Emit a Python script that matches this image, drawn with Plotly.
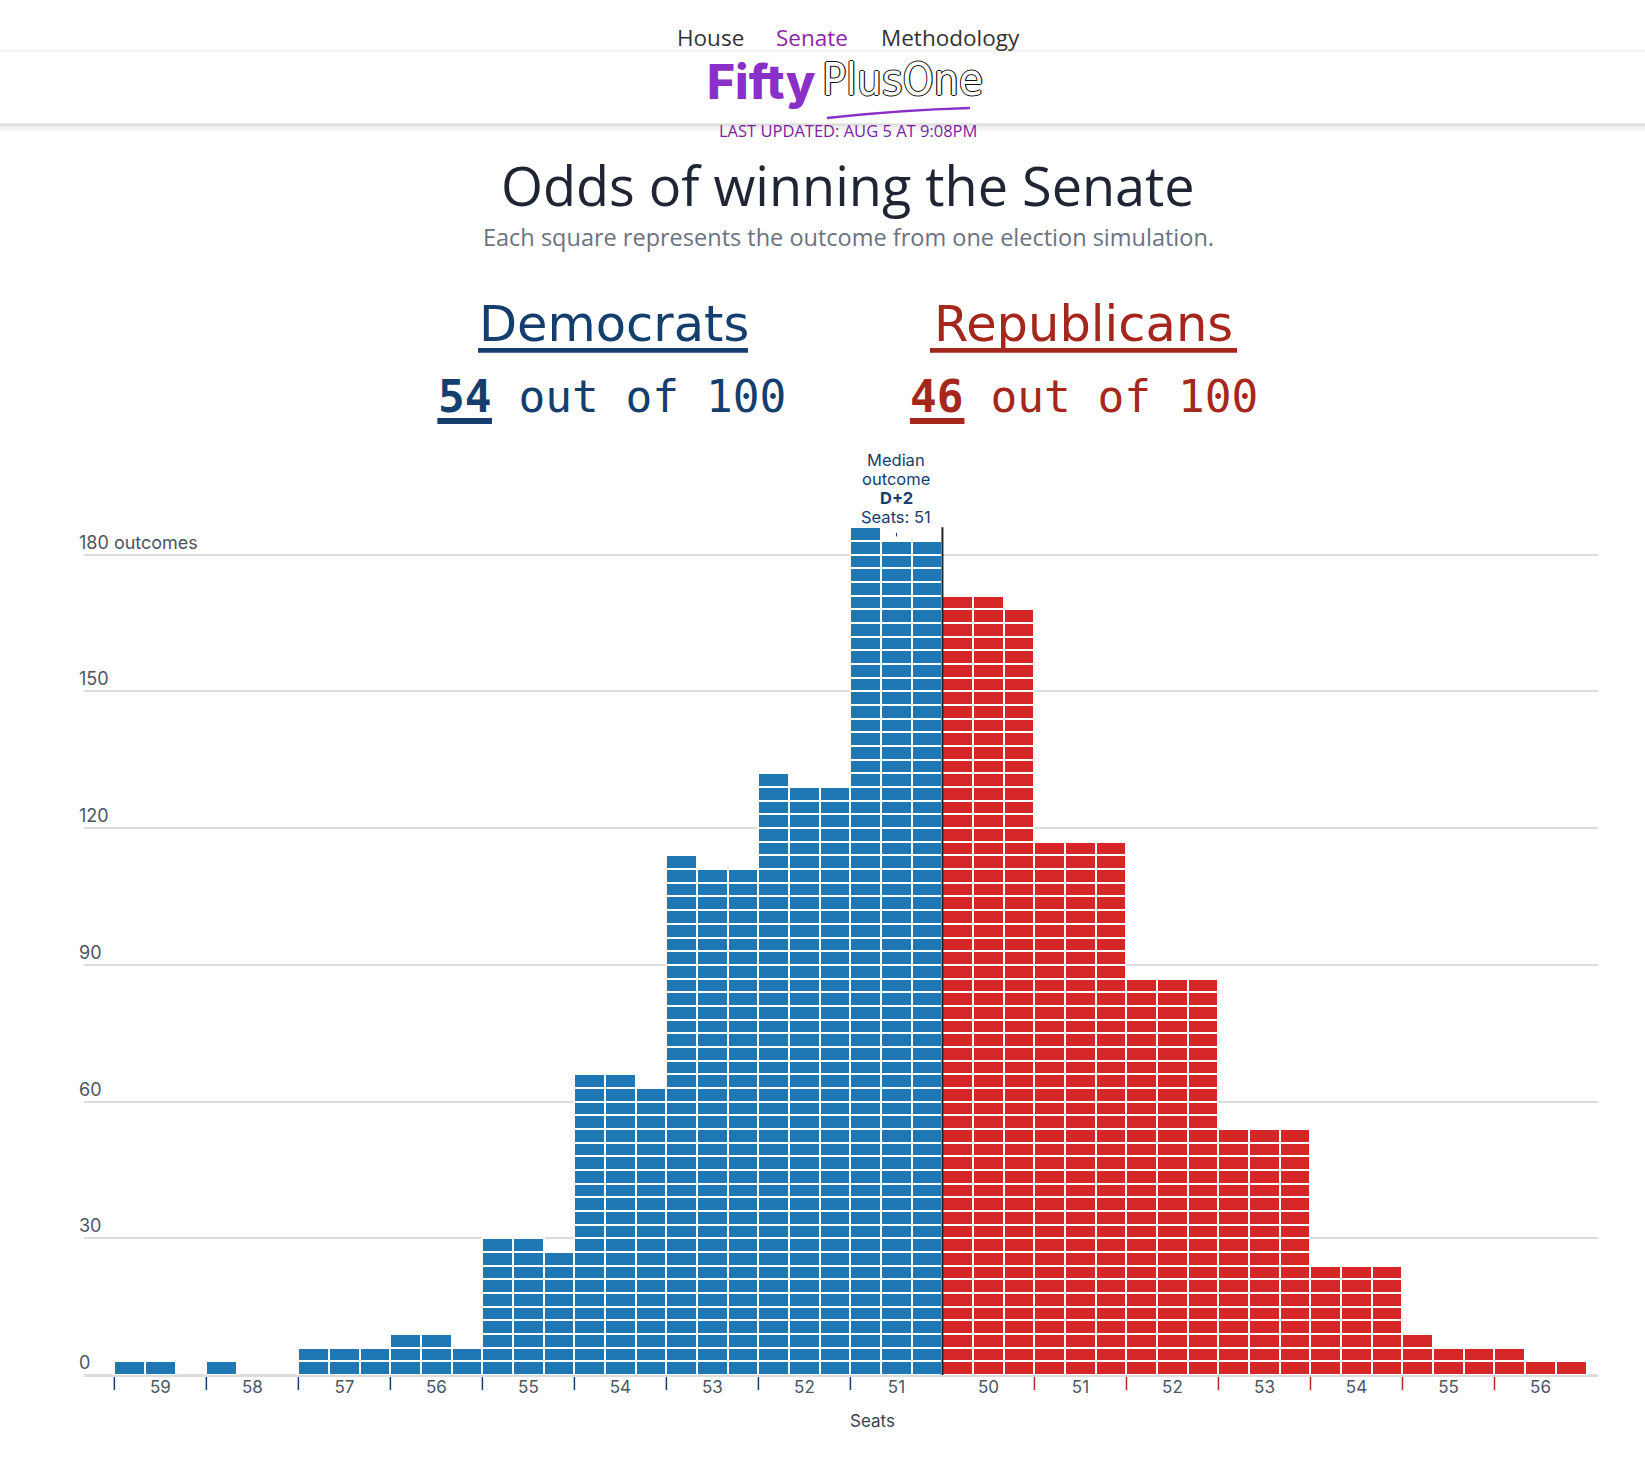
import plotly.graph_objects as go

# ---------------- data ----------------
dem_seats = [59, 58, 57, 56, 55, 54, 53, 52, 51]
dem_counts = [2, 1, 6, 8, 29, 65, 112, 130, 184]
rep_seats = [50, 51, 52, 53, 54, 55, 56]
rep_counts = [170, 117, 87, 54, 24, 7, 4]
y_tick_vals = [0, 30, 60, 90, 120, 150, 180]
y_tick_text = ["0", "30", "60", "90", "120", "150", "180 outcomes"]
dem_odds = 54
rep_odds = 46
odds_total = 100
median_margin = "D+2"
median_seats = 51

PER_ROW = 3  # squares per row in each seat bin

# ---------------- styles ----------------
BLUE = "#1f77b4"
RED = "#d62728"
DEM_TXT = "#143e6e"
REP_TXT = "#a5271c"
PURPLE = "#8b2fc9"
GRAY_TXT = "#4b5563"

W, H = 1645, 1467
L, R, T, B = 84, 47, 500, 92
PW = W - L - R
PH = H - T - B
Y0 = T + PH


def px(x):
    return (x - L) / PW


def py(y):
    return (Y0 - y) / PH


def waffle(counts, group_offset):
    xs, bases = [], []
    for gi, n in enumerate(counts):
        g = group_offset + gi
        for k in range(n):
            row, col = divmod(k, PER_ROW)
            xs.append(g * PER_ROW + col)
            bases.append(row * PER_ROW)
    return xs, bases


dem_x, dem_base = waffle(dem_counts, 0)
rep_x, rep_base = waffle(rep_counts, len(dem_counts))

fig = go.Figure()
fig.add_trace(go.Bar(x=dem_x, y=[PER_ROW] * len(dem_x), base=dem_base, width=1,
                     marker=dict(color=BLUE, line=dict(color="white", width=2)),
                     hoverinfo="skip", name="Democrats"))
fig.add_trace(go.Bar(x=rep_x, y=[PER_ROW] * len(rep_x), base=rep_base, width=1,
                     marker=dict(color=RED, line=dict(color="white", width=2)),
                     hoverinfo="skip", name="Republicans"))

n_groups = len(dem_counts) + len(rep_counts)
tick_vals = [g * PER_ROW + 1 for g in range(n_groups)]
tick_text = [str(s) for s in dem_seats + rep_seats]

annotations = []
shapes = []

# y labels
for v, t in zip(y_tick_vals, y_tick_text):
    annotations.append(dict(x=px(77.3), xref="paper", xanchor="left", y=v, yref="y",
                            yanchor="bottom", yshift=0, text=t, showarrow=False,
                            font=dict(family="Inter", size=18, color=GRAY_TXT)))

# group boundary ticks
for g in range(n_groups):
    if g == len(dem_counts):
        continue
    col = DEM_TXT if g < len(dem_counts) else "#b02a22"
    xb = g * PER_ROW - 0.5
    shapes.append(dict(type="line", xref="x", yref="paper", x0=xb, x1=xb,
                       y0=py(1377), y1=py(1390), line=dict(color=col, width=1.5)))

# median line
tops = [-(-n // PER_ROW) * PER_ROW for n in dem_counts + rep_counts]
median_x = len(dem_counts) * PER_ROW - 0.5
shapes.append(dict(type="line", xref="x", yref="y", x0=median_x, x1=median_x,
                   y0=0, y1=max(tops), line=dict(color="#222222", width=2), layer="above"))
med_col = (len(dem_counts) - 1) * PER_ROW + 1
shapes.append(dict(type="line", xref="x", yref="y", x0=med_col, x1=med_col,
                   y0=max(tops) - 2, y1=max(tops) - 1.2, line=dict(color=DEM_TXT, width=1)))
med_lines = ["Median", "outcome", f"<b>{median_margin}</b>", f"Seats: {median_seats}"]
for i, line in enumerate(med_lines):
    annotations.append(dict(x=med_col, xref="x", y=max(tops), yref="y", yanchor="bottom",
                            xanchor="center", showarrow=False,
                            yshift=-2 + (len(med_lines) - 1 - i) * 19,
                            text=line, font=dict(family="Inter", size=16.5, color=DEM_TXT)))

# axis title
annotations.append(dict(x=px(873), xref="paper", y=py(1421), yref="paper", text="Seats",
                        yanchor="middle", xanchor="center",
                        showarrow=False, font=dict(family="Inter", size=17, color="#374151")))


def txt(x, y, text, size, color, family="Open Sans", xanchor="center", **kw):
    annotations.append(dict(x=px(x), y=py(y), xref="paper", yref="paper", text=text,
                            xanchor=xanchor, yanchor="middle", showarrow=False,
                            font=dict(family=family, size=size, color=color, **kw)))


# header lines / shadow
shapes.append(dict(type="line", xref="paper", yref="paper", x0=px(0), x1=px(W),
                   y0=py(50.7), y1=py(50.7), line=dict(color="#f0f0f0", width=1.5)))
for (a, b_, c) in [(123.5, 125.5, "#dadada"), (125.5, 127.5, "#e6e6e6"), (127.5, 130.5, "#f3f3f3")]:
    shapes.append(dict(type="rect", xref="paper", yref="paper", x0=px(0), x1=px(W),
                       y0=py(a), y1=py(b_), line=dict(width=0), fillcolor=c, layer="above"))

# nav
txt(710, 37, "House", 22.5, "#333333")
txt(812, 37, "Senate", 22.5, "#8e24aa")
txt(950, 37, "Methodology", 22.5, "#333333")

# logo
txt(818, 82, "Fifty", 48, PURPLE, family="Inter", xanchor="right", weight=800)
txt(820, 79, "PlusOne", 44, "white", family="DejaVu Sans Condensed, Roboto", xanchor="left",
    shadow="1.2px 0 0 #111, -1.2px 0 0 #111, 0 1.2px 0 #111, 0 -1.2px 0 #111")
shapes.append(dict(type="path", xref="paper", yref="paper",
                   path=f"M {px(827)},{py(118)} Q {px(900)},{py(110)} {px(970)},{py(108)}",
                   line=dict(color=PURPLE, width=2.5)))
txt(848, 130, "LAST UPDATED: AUG 5 AT 9:08PM", 16.5, "#7b1fa2")

# titles
txt(848, 184.5, "Odds of winning the Senate", 54, "#1f2533")
txt(848, 237, "Each square represents the outcome from one election simulation.", 23.5, "#6b7280")

# party headers
txt(613.5, 324, "Democrats", 49.5, DEM_TXT, family="DejaVu Sans")
txt(1083.6, 324, "Republicans", 49.5, REP_TXT, family="DejaVu Sans")
shapes.append(dict(type="line", xref="paper", yref="paper", x0=px(478), x1=px(748),
                   y0=py(350.3), y1=py(350.3), line=dict(color=DEM_TXT, width=4.7)))
shapes.append(dict(type="line", xref="paper", yref="paper", x0=px(930), x1=px(1237),
                   y0=py(350.3), y1=py(350.3), line=dict(color=REP_TXT, width=4.7)))

MONO = 44.5
adv = 0.602 * MONO
for cx, val, colr in [(611.5, dem_odds, DEM_TXT), (1084, rep_odds, REP_TXT)]:
    s = f"{val} out of {odds_total}"
    txt(cx, 396, f"<b>{val}</b> out of {odds_total}", MONO, colr, family="DejaVu Sans Mono")
    left = cx - len(s) * adv / 2
    shapes.append(dict(type="line", xref="paper", yref="paper", x0=px(left), x1=px(left + len(str(val)) * adv + 1),
                       y0=py(421), y1=py(421), line=dict(color=colr, width=6)))

fig.update_layout(
    width=W, height=H, autosize=False,
    margin=dict(l=L, r=R, t=T, b=B, pad=0),
    plot_bgcolor="white", paper_bgcolor="white",
    barmode="overlay", bargap=0, showlegend=False,
    annotations=annotations, shapes=shapes,
    xaxis=dict(range=[-1.49, 47.875], tickvals=tick_vals, ticktext=tick_text, ticks="",
               showgrid=False, zeroline=False, showline=False,
               tickfont=dict(family="Inter", size=17, color=GRAY_TXT)),
    yaxis=dict(range=[0, 192], tickvals=y_tick_vals, showticklabels=False,
               showgrid=True, gridcolor="#dcdcdc", gridwidth=1.5,
               zeroline=True, zerolinecolor="#dcdcdc", zerolinewidth=3),
)

fig.write_html("out.html", config={"displayModeBar": False},
               post_script="document.body.style.margin='0';")
